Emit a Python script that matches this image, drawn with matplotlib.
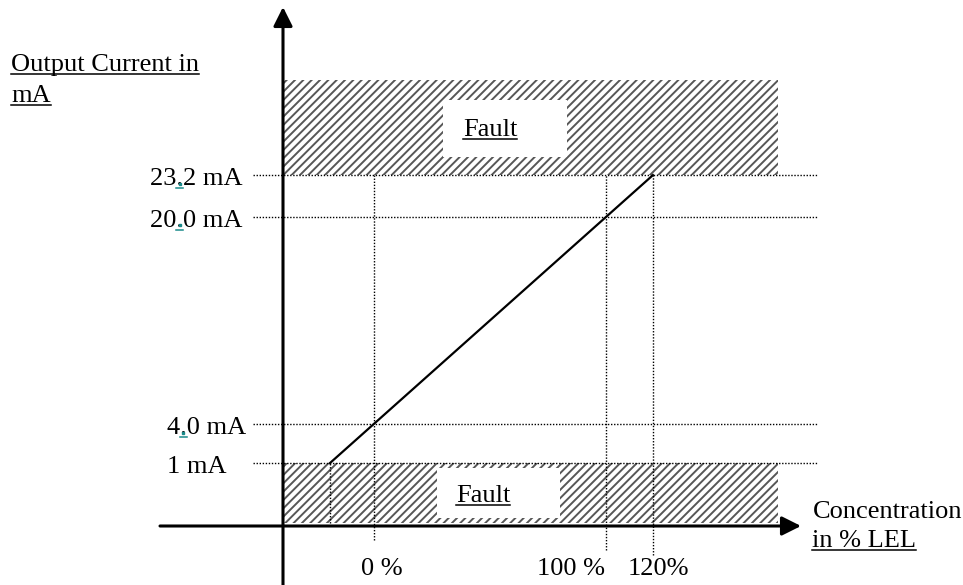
import matplotlib
matplotlib.use("Agg")
import matplotlib.pyplot as plt
import matplotlib.transforms as mtransforms
from matplotlib.patches import Rectangle
from matplotlib.lines import Line2D

plt.rcParams["font.family"] = ["Liberation Serif", "DejaVu Serif"]
plt.rcParams["hatch.linewidth"] = 1.4

# current levels (mA) marked on the y axis
levels_ma = [1.0, 4.0, 20.0, 23.2]
level_labels = ["1 mA", "4.0 mA", "20.0 mA", "23.2 mA"]
# concentration marks (% LEL) on the x axis
conc_pct = [0, 100, 120]
conc_labels = ["0 %", "100 %", "120%"]
# output curve: 4-20 mA over 0-100 % LEL, running from 1 mA up to 23.2 mA
curve_pct = [-18.75, 120]
curve_ma = [1.0, 23.2]
fault_low_ma = 1.0
fault_high_ma = 23.2

W, H = 963, 585
XMIN, XMAX = -160.5, 253.2
YMIN, YMAX = -8.4, 36.7
FS = 19


def dx(px):
    return XMIN + px / W * (XMAX - XMIN)


def dy(py):
    return YMAX - py / H * (YMAX - YMIN)


fig = plt.figure(figsize=(W / 100, H / 100), dpi=100)
ax = fig.add_axes([0, 0, 1, 1])
ax.set_xlim(XMIN, XMAX)
ax.set_ylim(YMIN, YMAX)
ax.axis("off")

# fault zones (hatched) with white label boxes
hatch_kw = dict(facecolor="white", edgecolor="#575757", hatch="////", lw=0, zorder=1)
ax.add_patch(Rectangle((dx(283), fault_high_ma), dx(778) - dx(283),
                       dy(80) - fault_high_ma, **hatch_kw))
ax.add_patch(Rectangle((dx(283), dy(523)), dx(778) - dx(283),
                       fault_low_ma - dy(523), **hatch_kw))
ax.add_patch(Rectangle((dx(443), dy(157)), dx(567) - dx(443), dy(100) - dy(157),
                       facecolor="white", lw=0, zorder=2))
ax.add_patch(Rectangle((dx(437), dy(518)), dx(560) - dx(437), dy(468) - dy(518),
                       facecolor="white", lw=0, zorder=2))

dot = dict(color="black", lw=1.0, linestyle=(0, (1, 1.2)), zorder=3)
# dotted reference lines
ax.hlines(levels_ma, dx(253), dx(818), **dot)
vbottoms = [dy(540), dy(550), dy(555)]
for p, b in zip(conc_pct, vbottoms):
    ax.vlines(p, b, fault_high_ma, **dot)
ax.vlines(curve_pct[0], dy(523), curve_ma[0], **dot)

# output curve
ax.plot(curve_pct, curve_ma, color="black", lw=1.6, zorder=5)

# axes arrows
arrow = dict(arrowstyle="-|>", lw=2.2, color="black", mutation_scale=29,
             shrinkA=0, shrinkB=0)
ax.annotate("", xy=(dx(283), dy(7)), xytext=(dx(283), dy(585)), arrowprops=arrow, zorder=6)
ax.annotate("", xy=(dx(801), dy(526)), xytext=(dx(160), dy(526)), arrowprops=arrow, zorder=6)


def down(px):
    return mtransforms.offset_copy(ax.transData, fig=fig, x=0, y=-px, units="dots")


def shift(xp, yp):
    return mtransforms.offset_copy(ax.transData, fig=fig, x=xp, y=-yp, units="dots")


renderer = fig.canvas.get_renderer()


def underline(t, color="black", lw=1.1, gap=3):
    bb = t.get_window_extent(renderer=renderer)
    xb, yb = t.get_transform().transform(t.get_position())
    fig.add_artist(Line2D([bb.x0, bb.x1], [yb - gap, yb - gap],
                          transform=mtransforms.IdentityTransform(), color=color, lw=lw))


def width_of(s):
    tmp = ax.text(0, 0, s, fontsize=FS)
    w = tmp.get_window_extent(renderer=renderer).width
    tmp.remove()
    return w


def mark_dot(t, prefix):
    # teal proofing mark under the decimal point
    bb = t.get_window_extent(renderer=renderer)
    xb, yb = t.get_transform().transform(t.get_position())
    x0 = bb.x0 + width_of(prefix)
    wd = width_of(prefix + ".") - width_of(prefix)
    ident = mtransforms.IdentityTransform()
    fig.add_artist(Line2D([x0 + wd / 2], [yb + 1.5], transform=ident, marker="s",
                          markersize=2.0, color="#1a8a8a", lw=0))
    fig.add_artist(Line2D([x0, x0 + wd], [yb - 3, yb - 3],
                          transform=ident, color="#1a8a8a", lw=1.1))


# level labels
label_left = [167, 167, 150, 150]
for lv, lab, lx in zip(levels_ma, level_labels, label_left):
    t = ax.text(dx(lx), lv, lab, fontsize=FS, ha="left", va="baseline", transform=down(10))
    if "." in lab:
        mark_dot(t, lab.split(".")[0])

# concentration labels
conc_align = [("center", 8), ("right", -1), ("center", 5)]
for p, lab, (ha, off) in zip(conc_pct, conc_labels, conc_align):
    ax.text(p, dy(575), lab, fontsize=FS, ha=ha, va="baseline", transform=shift(off, 0))

# axis titles
t1 = ax.text(dx(11), dy(71), "Output Current in", fontsize=FS, va="baseline")
t2 = ax.text(dx(11), dy(102), "mA", fontsize=FS, va="baseline")
ax.text(dx(813), dy(518), "Concentration", fontsize=FS, va="baseline")
t3 = ax.text(dx(812), dy(547), "in % LEL", fontsize=FS, va="baseline")

# fault labels
f1 = ax.text(dx(490), dy(136), "Fault", fontsize=FS, ha="center", va="baseline", zorder=4)
f2 = ax.text(dx(483), dy(502), "Fault", fontsize=FS, ha="center", va="baseline", zorder=4)

for t in (t1, t2, t3, f1, f2):
    underline(t)

fig.savefig("out.png", dpi=100)
